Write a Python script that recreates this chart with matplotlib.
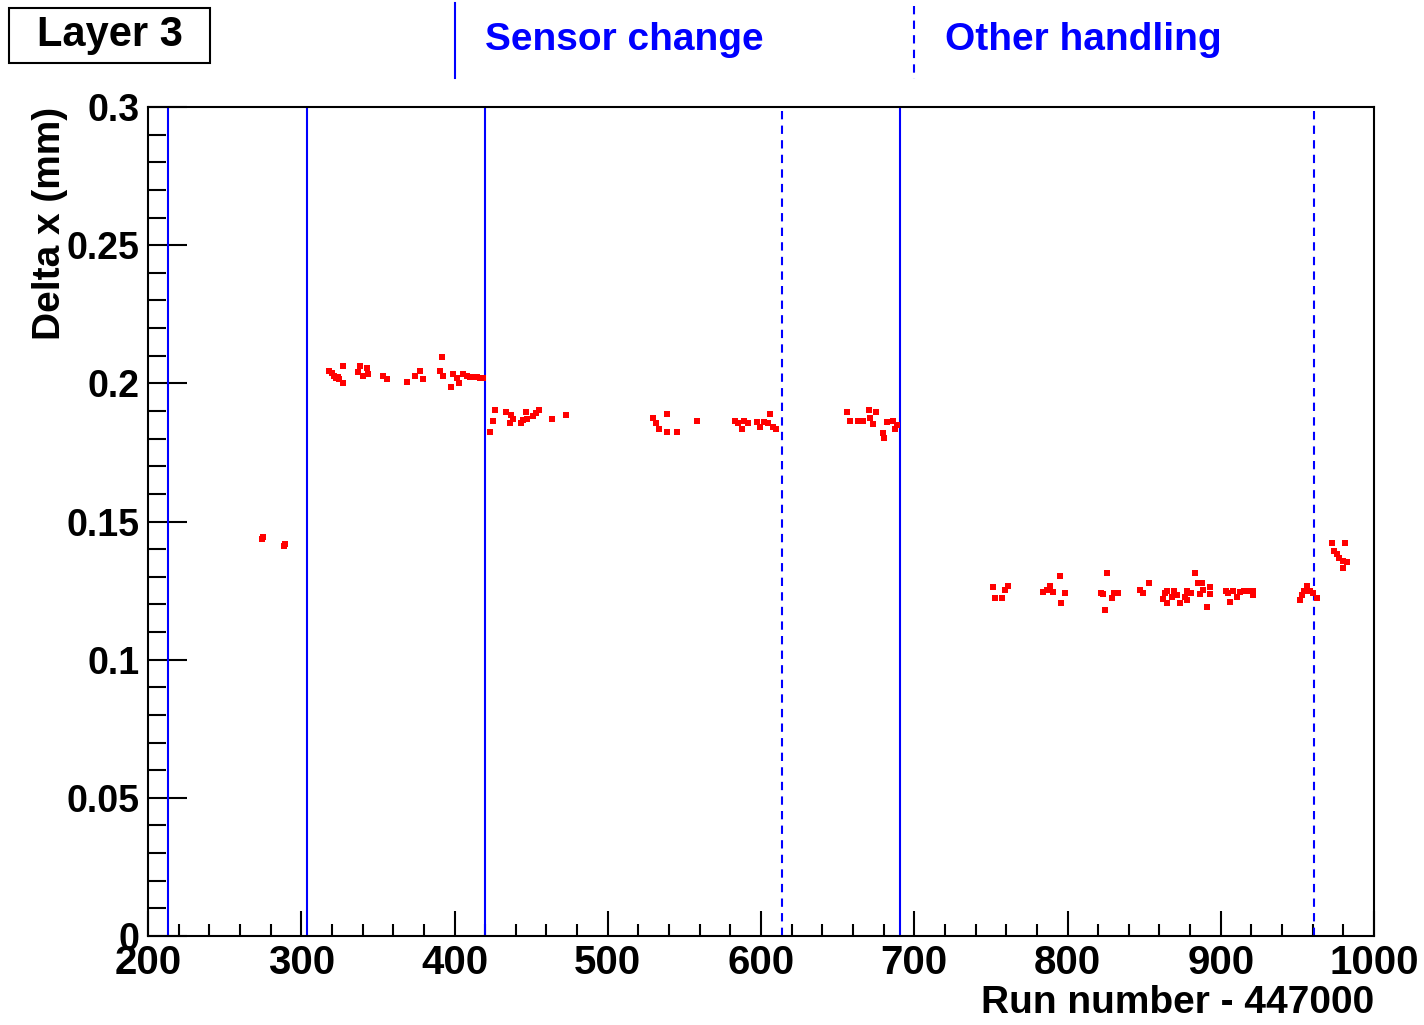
import matplotlib
matplotlib.use("Agg")
import matplotlib.pyplot as plt
from matplotlib.lines import Line2D
from matplotlib.patches import Rectangle
from matplotlib.ticker import MultipleLocator, FormatStrFormatter

plt.rcParams['font.family'] = ['Liberation Sans', 'DejaVu Sans']
plt.rcParams['font.weight'] = 'bold'

# run numbers (minus 447000) where the sensor was swapped or handled
sensor_changes = [213, 303.5, 420, 691]
other_handling = [614, 961]

# per-run delta x (mm)
runs = [274.4, 275.3, 289.4, 288.6,
        318.3, 319.9, 321.4, 322.5, 323.8, 324.8, 327.0, 327.0, 337.2, 338.3,
        340.0, 342.6, 343.7, 353.5, 355.7, 368.8, 374.2, 377.5, 379.2, 391.6,
        390.5, 392.7, 397.4, 399.2, 401.4, 403.1, 405.7, 407.9, 410.1, 412.3,
        414.5, 416.6, 418.4,
        426.4, 424.9, 423.2, 433.6, 436.6, 438.4, 436.2, 443.1, 444.9, 446.6,
        447.5, 451.4, 453.2, 455.1, 463.4, 472.5,
        529.7, 531.5, 533.7, 538.5, 538.5, 545.4, 558.5,
        583.0, 585.2, 587.4, 588.9, 591.7, 597.6, 599.4, 602.0, 604.8, 605.9,
        607.6, 609.8,
        656.3, 658.1, 663.5, 666.8, 670.7, 671.1, 673.3, 675.0, 679.4, 680.2,
        682.4, 686.3, 687.4, 688.9,
        751.2, 752.7, 757.5, 759.2, 761.4,
        784.2, 786.8, 788.6, 790.8, 795.1, 795.6, 798.4,
        821.7, 823.4, 825.6, 824.5, 828.8, 830.3, 833.2,
        847.3, 849.1, 853.4, 862.1, 863.6, 865.1, 864.7, 868.0, 869.5, 871.2,
        873.4, 876.7, 878.2, 880.4, 877.8, 883.2, 884.9, 887.5, 886.5, 888.6,
        890.8, 893.0, 893.0,
        903.4, 904.9, 906.0, 908.2, 910.4, 912.5, 915.2, 918.0, 920.8, 921.3,
        951.7, 952.8, 954.4, 956.1, 958.3, 960.5, 963.1,
        972.4, 981.1, 974.0, 975.7, 977.4, 979.6, 982.2, 979.6]
delta_x = [0.1437, 0.1443, 0.1419, 0.1412,
           0.2046, 0.2036, 0.2027, 0.2018, 0.2024, 0.2015, 0.2063, 0.2002, 0.2042, 0.2063,
           0.2027, 0.2054, 0.2033, 0.2027, 0.2016, 0.2006, 0.2027, 0.2046, 0.2016, 0.2094,
           0.2046, 0.2027, 0.1985, 0.2034, 0.2018, 0.2002, 0.2034, 0.2027, 0.2024, 0.2024,
           0.2024, 0.2018, 0.2018,
           0.1904, 0.1865, 0.1825, 0.1898, 0.1886, 0.1871, 0.1856, 0.1856, 0.1868, 0.1898,
           0.1871, 0.1882, 0.1894, 0.1904, 0.1871, 0.1886,
           0.1874, 0.1855, 0.1834, 0.1888, 0.1825, 0.1825, 0.1865,
           0.1865, 0.1855, 0.1834, 0.1865, 0.1855, 0.1861, 0.1843, 0.1861, 0.1855, 0.1888,
           0.1843, 0.1834,
           0.1898, 0.1865, 0.1865, 0.1865, 0.1904, 0.1874, 0.1853, 0.1895, 0.1819, 0.1801,
           0.1861, 0.1865, 0.1834, 0.1849,
           0.1264, 0.1222, 0.1222, 0.1252, 0.1267,
           0.1246, 0.1252, 0.1267, 0.1246, 0.1303, 0.1204, 0.1243,
           0.1243, 0.1238, 0.1315, 0.1180, 0.1222, 0.1243, 0.1243,
           0.1252, 0.1240, 0.1276, 0.1218, 0.1240, 0.1249, 0.1204, 0.1228, 0.1249, 0.1234,
           0.1204, 0.1228, 0.1249, 0.1240, 0.1216, 0.1315, 0.1279, 0.1276, 0.1238, 0.1252,
           0.1192, 0.1264, 0.1238,
           0.1249, 0.1240, 0.1210, 0.1249, 0.1228, 0.1246, 0.1249, 0.1249, 0.1249, 0.1234,
           0.1216, 0.1234, 0.1249, 0.1267, 0.1249, 0.1240, 0.1222,
           0.1421, 0.1421, 0.1394, 0.1381, 0.1367, 0.1358, 0.1355, 0.1330]

W, H = 1424, 1025
fig = plt.figure(figsize=(W / 100, H / 100), dpi=100)
ax = fig.add_axes([148 / W, 1 - 936 / H, (1374 - 148) / W, (936 - 107) / H])

ax.plot(runs, delta_x, ls='none', marker='s', ms=4, mew=0, color='red', zorder=3)

for r in sensor_changes:
    ax.axvline(r, color='blue', lw=1.5, zorder=2)
for r in other_handling:
    ax.axvline(r, color='blue', lw=1.5, ls=(0, (4, 3)), zorder=2)

ax.set_xlim(200, 1000)
ax.set_ylim(0, 0.3)
ax.xaxis.set_major_locator(MultipleLocator(100))
ax.xaxis.set_minor_locator(MultipleLocator(20))
ax.yaxis.set_major_locator(MultipleLocator(0.05))
ax.yaxis.set_minor_locator(MultipleLocator(0.01))
ax.yaxis.set_major_formatter(FormatStrFormatter('%g'))

ax.tick_params(axis='x', which='major', direction='in', length=18, width=1.5,
               labelsize=29, pad=6, top=False)
ax.tick_params(axis='x', which='minor', direction='in', length=9, width=1.5, top=False)
ax.tick_params(axis='y', which='major', direction='in', length=28, width=1.5,
               labelsize=27, pad=6, right=False)
ax.tick_params(axis='y', which='minor', direction='in', length=13, width=1.5, right=False)
for s in ax.spines.values():
    s.set_linewidth(1.5)

ax.set_xlabel('Run number - 447000', fontsize=28, fontweight='bold', loc='right', labelpad=2)
ax.set_ylabel('Delta x (mm)', fontsize=28, fontweight='bold', loc='top', labelpad=-1)

# header: layer tag and line-style key
fig.add_artist(Rectangle((9 / W, 1 - 63 / H), 201 / W, 55 / H, transform=fig.transFigure,
                         fill=False, ec='black', lw=1.5))
fig.text(110 / W, 1 - 35 / H, 'Layer 3', fontsize=30, fontweight='bold',
         ha='center', va='center')

fig.add_artist(Line2D([455 / W, 455 / W], [1 - 3 / H, 1 - 78 / H], color='blue', lw=1.5))
fig.text(485 / W, 1 - 40 / H, 'Sensor change', fontsize=28, fontweight='bold',
         color='blue', ha='left', va='center')
fig.add_artist(Line2D([914 / W, 914 / W], [1 - 6 / H, 1 - 79 / H], color='blue', lw=1.5,
                      ls=(0, (4, 3))))
fig.text(945 / W, 1 - 40 / H, 'Other handling', fontsize=28, fontweight='bold',
         color='blue', ha='left', va='center')

fig.savefig('out.png', dpi=100)
